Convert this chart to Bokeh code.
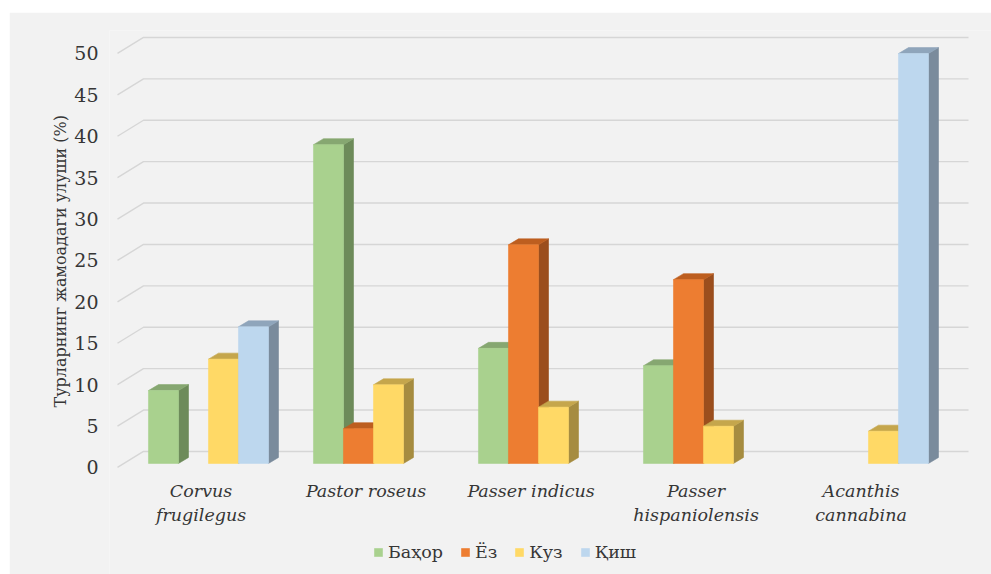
from bokeh.plotting import figure
from bokeh.models import (ColumnDataSource, Range1d, LinearAxis, FixedTicker,
                          Legend, LegendItem, Spacer, Title)
from bokeh.layouts import column, row
from bokeh.core.properties import value
from bokeh.embed import file_html
from bokeh.resources import INLINE

# Species (categories) and the seasonal shares, %
categories = ["Corvus\nfrugilegus", "Pastor roseus", "Passer indicus",
              "Passer\nhispaniolensis", "Acanthis\ncannabina"]
seasons = ["Баҳор", "Ёз", "Куз", "Қиш"]
bahor = [8.8, 38.5, 13.9, 11.8, 0]
yoz = [0, 4.2, 26.4, 22.2, 0]
kuz = [12.6, 9.5, 6.8, 4.5, 3.9]
qish = [16.5, 0, 0, 0, 49.5]
y_ticks = [0, 5, 10, 15, 20, 25, 30, 35, 40, 45, 50]
y_title = "Турларнинг жамоадаги улуши (%)"

series = [bahor, yoz, kuz, qish]
# face colours: front, side, top
palette = [
    ("#a9d18e", "#6d8b5a", "#86a771"),
    ("#ed7d31", "#9b4e1d", "#bd5e1f"),
    ("#ffd966", "#a68c40", "#c5a64c"),
    ("#bdd7ee", "#7a8b9c", "#8fa5bb"),
]

FONT = "DejaVu Serif"
TEXT = "#363636"
BG = "#f2f2f2"

# 3D look: bar width, depth offsets (data units)
W = 30 / 165
DX = 10 / 165
DY = 6 / 8.28
# back wall / front edge offsets of the grid
BACK_DX, BACK_DY = -0.394, 1.45
FRONT_X, FRONT_DY = -0.5515, -0.483
WALL_RIGHT = 4.606

p = figure(width=982, height=562, x_range=Range1d(-0.6, 4.7455),
           y_range=Range1d(-13.41, 52.29), output_backend="svg",
           toolbar_location=None, x_axis_location=None, y_axis_location=None,
           min_border_left=100, min_border_right=0, min_border_top=18,
           min_border_bottom=0, background_fill_color=BG,
           border_fill_color=BG, outline_line_color=None)
p.grid.visible = False

# value axis on the front edge
p.extra_y_ranges = {"front": Range1d(-13.41 - FRONT_DY, 52.29 - FRONT_DY)}
yax = LinearAxis(y_range_name="front", ticker=FixedTicker(ticks=y_ticks))
yax.axis_line_color = None
yax.major_tick_line_color = None
yax.minor_tick_line_color = None
yax.major_tick_out = 0
yax.major_tick_in = 0
yax.major_label_standoff = 11
yax.major_label_text_font = FONT
yax.major_label_text_font_size = "19px"
yax.major_label_text_color = TEXT
p.add_layout(yax, "left")

# vertical axis title, starting above the category labels
p.add_layout(Title(text=y_title, align="left", offset=167, standoff=4,
                   text_font=FONT, text_font_size="16px",
                   text_font_style="normal", text_color=TEXT), "left")

# grid: diagonal from the front edge to the back wall, then along the wall
gx, gy = [], []
for t in y_ticks:
    gx.append([FRONT_X, BACK_DX, WALL_RIGHT])
    gy.append([t + FRONT_DY, t + BACK_DY, t + BACK_DY])
p.multi_line(gx, gy, line_color="#d6d6d6", line_width=1.4)

# bars: side, top and front faces, drawn series by series
items = []
for s, (vals, (c_front, c_side, c_top)) in enumerate(zip(series, palette)):
    xs, ys, cols = [], [], []
    for i, v in enumerate(vals):
        if v <= 0:
            continue
        L = i - 2 * W + s * W
        R = L + W
        xs.append([R, R + DX, R + DX, R])
        ys.append([0, DY, v + DY, v])
        cols.append(c_side)
        xs.append([L, L + DX, R + DX, R])
        ys.append([v, v + DY, v + DY, v])
        cols.append(c_top)
        xs.append([L, R, R, L])
        ys.append([0, 0, v, v])
        cols.append(c_front)
    src = ColumnDataSource(dict(xs=xs, ys=ys, color=cols))
    r = p.patches("xs", "ys", source=src, fill_color="color",
                  line_color="color", line_width=0.6)
    items.append(LegendItem(label=seasons[s], renderers=[r], index=2))

# category labels under the groups
lab = ColumnDataSource(dict(x=[i - 0.045 for i in range(len(categories))],
                            y=[-2.17] * len(categories), text=categories))
p.text("x", "y", text="text", source=lab, text_align="center",
       text_baseline="top", text_font=value(FONT), text_font_style="italic",
       text_font_size="17.5px", text_color=TEXT, text_line_height=1.2)

legend = Legend(items=items, orientation="horizontal", location=(264, 12),
                glyph_width=10, glyph_height=10, label_standoff=5, spacing=17,
                padding=0, margin=0, label_text_font=FONT,
                label_text_font_size="17.5px", label_text_color=TEXT,
                background_fill_alpha=0, border_line_alpha=0)
p.add_layout(legend, "center")

layout = column(Spacer(height=12), row(Spacer(width=9), p))
open("out.html", "w").write(file_html(layout, INLINE))
